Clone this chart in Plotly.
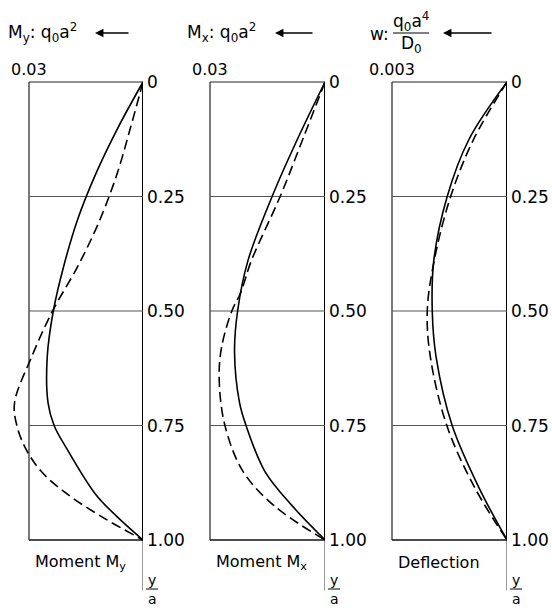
import plotly.graph_objects as go

# ---- data: y/a positions and values for each curve ----
my_y_solid = [0, 0.1, 0.2, 0.3, 0.4, 0.5, 0.6, 0.7, 0.75, 0.8, 0.9, 0.95, 1.0]
my_solid = [0, 0.0066, 0.0124, 0.0172, 0.0208, 0.0236, 0.0252, 0.0250, 0.0234, 0.0201, 0.0125, 0.0067, 0]
my_y_dashed = [0, 0.1, 0.2, 0.3, 0.4, 0.5, 0.6, 0.7, 0.75, 0.8, 0.85, 0.9, 0.95, 1.0]
my_dashed = [0, 0.0033, 0.0068, 0.0113, 0.0170, 0.0238, 0.0293, 0.0338, 0.0332, 0.0309, 0.0268, 0.0199, 0.0107, 0]

mx_y_solid = [0, 0.125, 0.25, 0.39, 0.5, 0.59, 0.70, 0.75, 0.85, 0.925, 1.0]
mx_solid = [0, 0.0072, 0.0138, 0.0201, 0.0228, 0.0236, 0.0223, 0.0206, 0.0157, 0.0086, 0]
mx_y_dashed = [0, 0.125, 0.25, 0.39, 0.46, 0.5, 0.58, 0.65, 0.75, 0.85, 0.925, 1.0]
mx_dashed = [0, 0.0058, 0.0117, 0.0192, 0.0220, 0.0243, 0.0270, 0.0276, 0.0261, 0.0214, 0.0133, 0]

w_y_solid = [0, 0.125, 0.25, 0.39, 0.5, 0.6, 0.75, 0.886, 1.0]
w_solid = [0, 0.00099, 0.00156, 0.00191, 0.00195, 0.00185, 0.00143, 0.00073, 0]
w_y_dashed = [0, 0.125, 0.25, 0.39, 0.5, 0.6, 0.75, 0.886, 1.0]
w_dashed = [0, 0.00087, 0.00147, 0.00190, 0.00208, 0.00200, 0.00157, 0.00084, 0]

y_ticks = [0, 0.25, 0.5, 0.75, 1.0]
y_tick_text = ["0", "0.25", "0.50", "0.75", "1.00"]
x_full = [0.03, 0.03, 0.003]
x_full_text = ["0.03", "0.03", "0.003"]
panel_titles = ["Moment M<sub>y</sub>", "Moment M<sub>x</sub>", "Deflection"]

# ---- layout geometry (pixels) ----
W, H = 552, 610
FONT = "DejaVu Sans"
box_left = [29, 210, 392]
box_right = [143, 325, 507]
box_top, box_bottom = 82, 540
EXT = 1.25  # x range extends past the full-scale value so curves may overshoot the box

def px(x):
    return x / W

def py(y):
    return 1 - y / H

fig = go.Figure()

series = [
    (my_y_solid, my_solid, my_y_dashed, my_dashed),
    (mx_y_solid, mx_solid, mx_y_dashed, mx_dashed),
    (w_y_solid, w_solid, w_y_dashed, w_dashed),
]

# y range so that y/a=0 sits at box_top and y/a=1 at box_bottom
dom_top_px, dom_bot_px = 72, 600
span = box_bottom - box_top
y_lo = (dom_top_px - box_top) / span
y_hi = (dom_bot_px - box_top) / span

shapes = []
annotations = []
for i in range(3):
    sfx = "" if i == 0 else str(i + 1)
    xa, ya = "x" + sfx, "y" + sfx
    L, R = box_left[i], box_right[i]
    full = x_full[i]
    dom_left = R - (R - L) * EXT
    fig.update_layout(**{
        "xaxis" + sfx: dict(domain=[px(dom_left), px(R)], range=[full * EXT, 0],
                            visible=False, fixedrange=True),
        "yaxis" + sfx: dict(domain=[py(dom_bot_px), py(dom_top_px)], range=[y_hi, y_lo],
                            visible=False, fixedrange=True, anchor=xa),
    })
    fig.layout["xaxis" + sfx].anchor = ya

    ys, vs, yd, vd = series[i]
    fig.add_trace(go.Scatter(x=vs, y=ys, xaxis=xa, yaxis=ya, mode="lines",
                             line=dict(color="black", width=1.6, shape="spline", smoothing=1.0),
                             showlegend=False, hoverinfo="skip"))
    fig.add_trace(go.Scatter(x=vd, y=yd, xaxis=xa, yaxis=ya, mode="lines",
                             line=dict(color="black", width=1.6, dash="10px,5px",
                                       shape="spline", smoothing=1.0),
                             showlegend=False, hoverinfo="skip"))

    # frame
    shapes += [
        dict(type="line", xref=xa, yref=ya, x0=full, x1=0, y0=0, y1=0,
             line=dict(color="#222", width=1.2), layer="below"),
        dict(type="line", xref=xa, yref=ya, x0=full, x1=0, y0=1, y1=1,
             line=dict(color="#111", width=1.6), layer="below"),
        dict(type="line", xref=xa, yref=ya, x0=full, x1=full, y0=0, y1=1,
             line=dict(color="#222", width=1.2), layer="below"),
        dict(type="line", xref=xa, yref=ya, x0=0, x1=0, y0=0, y1=1,
             line=dict(color="black", width=2), layer="below"),
        dict(type="line", xref=xa, yref=ya, x0=0, x1=0, y0=1, y1=1.11,
             line=dict(color="#333", width=1), layer="below"),
    ]
    for g in y_ticks[1:-1]:
        shapes.append(dict(type="line", xref=xa, yref=ya, x0=full, x1=0, y0=g, y1=g,
                           line=dict(color="#555", width=1), layer="below"))

    # right-hand y/a tick labels
    for v, t in zip(y_ticks, y_tick_text):
        annotations.append(dict(xref=xa, yref=ya, x=0, y=v, text=t, showarrow=False,
                                xanchor="left", yanchor="middle", xshift=2,
                                font=dict(family=FONT, size=17, color="black")))
    # full-scale value at top-left corner
    annotations.append(dict(xref=xa, yref=ya, x=full, y=0, text=x_full_text[i],
                            showarrow=False, xanchor="center", yanchor="bottom",
                            yshift=1, font=dict(family=FONT, size=16, color="black")))
    # panel caption
    annotations.append(dict(xref="paper", yref="paper", x=px(L + 4), y=py(562),
                            text=panel_titles[i], showarrow=False, xanchor="left",
                            yanchor="middle", font=dict(family=FONT, size=16, color="black")))
    # y/a label under the axis
    annotations.append(dict(xref="paper", yref="paper", x=px(R + 9), y=py(580), text="y",
                            showarrow=False, xanchor="center", yanchor="middle",
                            font=dict(family=FONT, size=14, color="black")))
    annotations.append(dict(xref="paper", yref="paper", x=px(R + 9), y=py(599), text="a",
                            showarrow=False, xanchor="center", yanchor="middle",
                            font=dict(family=FONT, size=14, color="black")))
    shapes.append(dict(type="line", xref="paper", yref="paper", x0=px(R + 3), x1=px(R + 15),
                       y0=py(589), y1=py(589), line=dict(color="black", width=1)))

# headers with scale units and arrows
hdr_font = dict(family=FONT, size=17, color="black")
annotations += [
    dict(xref="paper", yref="paper", x=px(6), y=py(33), text="M<sub>y</sub>: q<sub>0</sub>a<sup>2</sup>",
         showarrow=False, xanchor="left", yanchor="middle", font=hdr_font),
    dict(xref="paper", yref="paper", x=px(185), y=py(33), text="M<sub>x</sub>: q<sub>0</sub>a<sup>2</sup>",
         showarrow=False, xanchor="left", yanchor="middle", font=hdr_font),
    dict(xref="paper", yref="paper", x=px(368), y=py(34), text="w:",
         showarrow=False, xanchor="left", yanchor="middle", font=hdr_font),
    dict(xref="paper", yref="paper", x=px(411), y=py(22), text="q<sub>0</sub>a<sup>4</sup>",
         showarrow=False, xanchor="center", yanchor="middle", font=hdr_font),
    dict(xref="paper", yref="paper", x=px(411), y=py(45), text="D<sub>0</sub>",
         showarrow=False, xanchor="center", yanchor="middle", font=hdr_font),
]
shapes.append(dict(type="line", xref="paper", yref="paper", x0=px(393), x1=px(429),
                   y0=py(33), y1=py(33), line=dict(color="black", width=1.2)))

for tip, tail, yy in [(95, 130, 33), (275, 314, 33), (443, 493, 33)]:
    annotations.append(dict(xref="paper", yref="paper", x=px(tip), y=py(yy), text="",
                            showarrow=True, axref="pixel", ayref="pixel",
                            ax=tail - tip, ay=0, arrowhead=2, arrowsize=1.3,
                            arrowwidth=1.3, arrowcolor="black"))

fig.update_layout(
    width=W, height=H,
    margin=dict(l=0, r=0, t=0, b=0),
    paper_bgcolor="white", plot_bgcolor="rgba(0,0,0,0)",
    shapes=shapes, annotations=annotations,
    showlegend=False,
)

fig.write_html("out.html")
